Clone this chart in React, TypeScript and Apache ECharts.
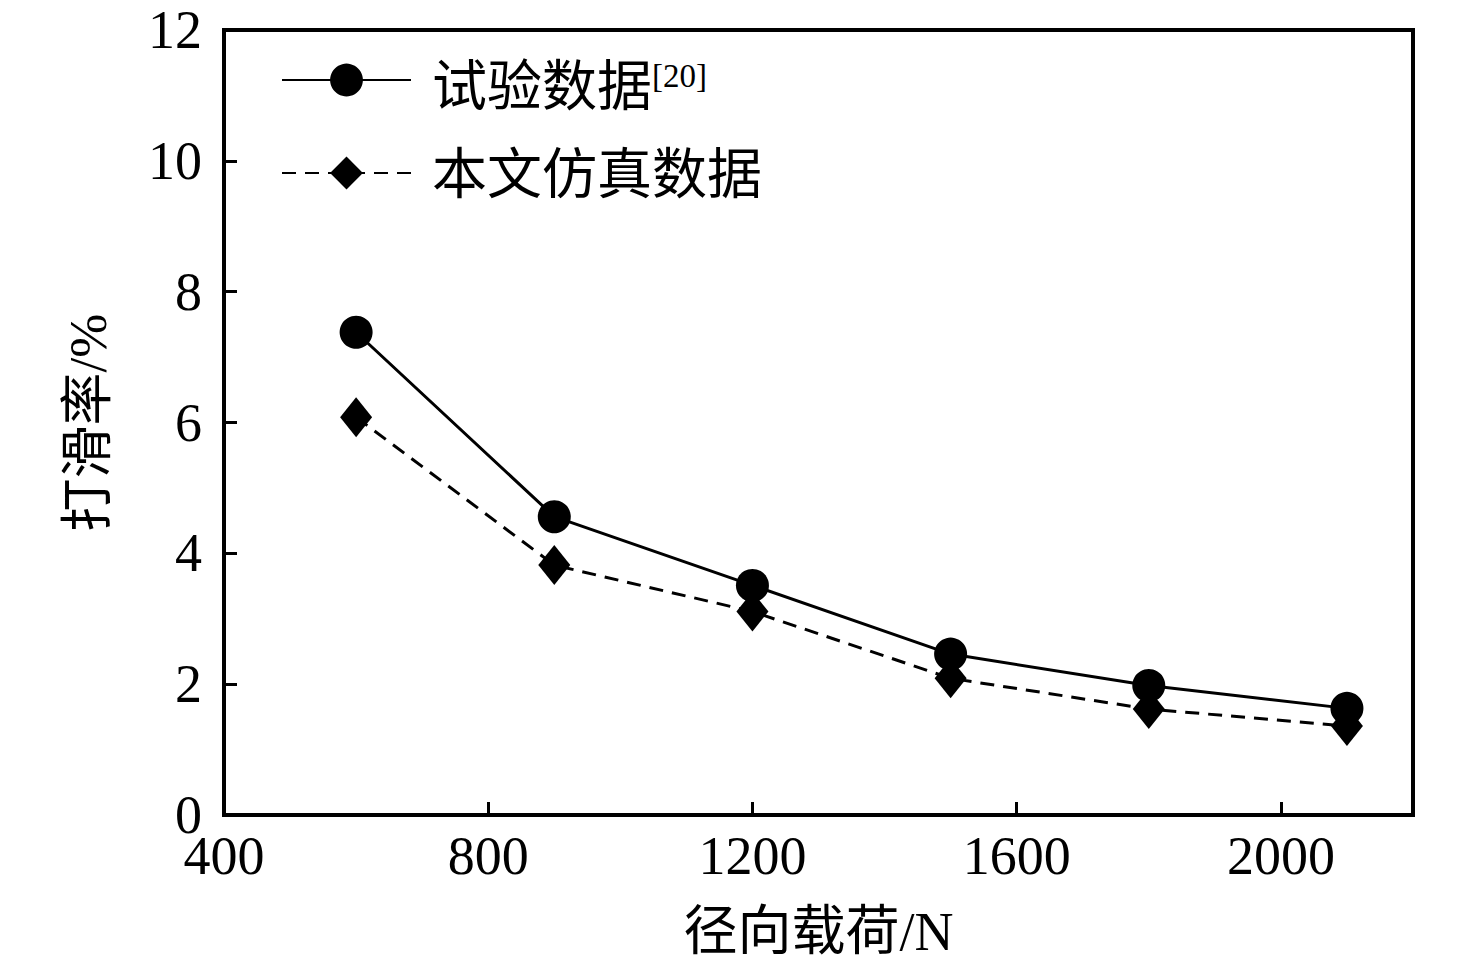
import React, { useEffect, useRef } from "react";
import * as echarts from "echarts";

const loads = [600, 900, 1200, 1500, 1800, 2100];
const testData = [7.38, 4.56, 3.51, 2.46, 1.98, 1.63];
const simData = [6.08, 3.82, 3.11, 2.09, 1.62, 1.36];
const seriesNames = ["试验数据", "本文仿真数据"];
const refMark = "[20]";
const xAxisName = "径向载荷/N";
const yAxisName = "打滑率/%";

const FONT = "'Liberation Serif', 'Times New Roman', 'Noto Sans CJK SC', serif";

export default function App() {
  const ref = useRef<HTMLDivElement>(null);
  useEffect(() => {
    if (!ref.current) return;
    const chart = echarts.init(ref.current, undefined, { renderer: "svg" });
    const toPairs = (ys: number[]) => loads.map((x, i) => [x, ys[i]]);
    const legendRich = {
      a: { fontSize: 55, lineHeight: 55, fontFamily: FONT, color: "#000" },
      s: {
        fontSize: 33,
        lineHeight: 33,
        verticalAlign: "top",
        fontFamily: FONT,
        color: "#000",
      },
    };
    chart.setOption({
      animation: false,
      backgroundColor: "#ffffff",
      textStyle: { fontFamily: FONT, color: "#000" },
      title: [
        {
          text: `{a|${seriesNames[0]}}{s|${refMark}}`,
          left: 432,
          top: 59,
          padding: 0,
          textStyle: { fontFamily: FONT, color: "#000", fontWeight: "normal", rich: legendRich },
        },
        {
          text: `{a|${seriesNames[1]}}`,
          left: 432,
          top: 147,
          padding: 0,
          textStyle: { fontFamily: FONT, color: "#000", fontWeight: "normal", rich: legendRich },
        },
      ],
      grid: {
        left: 224,
        right: 63,
        top: 30,
        bottom: 154,
        show: true,
        borderColor: "#000",
        borderWidth: 4,
        containLabel: false,
      },
      legend: {
        orient: "vertical",
        left: 281,
        top: 63.6,
        padding: 0,
        itemWidth: 129,
        itemHeight: 41,
        itemGap: 60.2,
        selectedMode: false,
        data: seriesNames,
        formatter: () => "",
        textStyle: { fontSize: 10, lineHeight: 10 },
      },
      xAxis: {
        type: "value",
        min: 400,
        max: 2200,
        interval: 400,
        name: xAxisName,
        nameLocation: "middle",
        nameGap: 90,
        nameTextStyle: { fontSize: 54, fontFamily: FONT, color: "#000" },
        axisLine: { lineStyle: { color: "#000", width: 4 } },
        axisTick: { inside: true, length: 13, lineStyle: { color: "#000", width: 3 } },
        axisLabel: {
          fontSize: 54,
          lineHeight: 40,
          fontFamily: FONT,
          color: "#000",
          margin: 21,
          showMaxLabel: false,
          formatter: (v: number) => String(v),
        },
        splitLine: { show: false },
      },
      yAxis: {
        type: "value",
        min: 0,
        max: 12,
        interval: 2,
        name: yAxisName,
        nameLocation: "middle",
        nameGap: 110,
        nameRotate: 90,
        nameTextStyle: { fontSize: 53, fontFamily: FONT, color: "#000" },
        axisLine: { lineStyle: { color: "#000", width: 4 } },
        axisTick: { inside: true, length: 13, lineStyle: { color: "#000", width: 3 } },
        axisLabel: {
          fontSize: 54,
          lineHeight: 40,
          fontFamily: FONT,
          color: "#000",
          margin: 22,
          formatter: (v: number) => String(v),
        },
        splitLine: { show: false },
      },
      series: [
        {
          name: seriesNames[1],
          type: "line",
          data: toPairs(simData),
          symbol: "diamond",
          symbolSize: [32, 40],
          lineStyle: { color: "#000", width: 3, type: [14, 9] },
          itemStyle: { color: "#000" },
          z: 2,
        },
        {
          name: seriesNames[0],
          type: "line",
          data: toPairs(testData),
          symbol: "circle",
          symbolSize: 33,
          lineStyle: { color: "#000", width: 3, type: "solid" },
          itemStyle: { color: "#000" },
          z: 3,
        },
      ],
    });
    return () => chart.dispose();
  }, []);
  return (
    <div
      ref={ref}
      style={{ position: "fixed", left: 0, top: 0, width: 1476, height: 969, background: "#fff" }}
    />
  );
}
